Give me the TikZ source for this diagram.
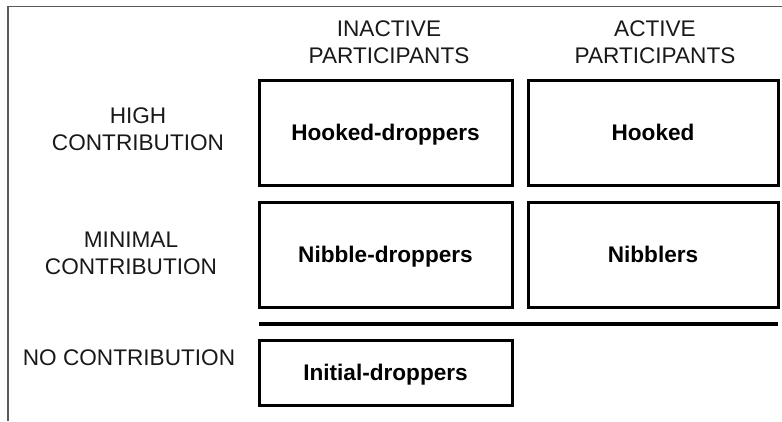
\documentclass[tikz,border=0pt]{standalone}
\usepackage{fontspec}
\setmainfont{Liberation Sans}
\begin{document}
\begin{tikzpicture}[x=1pt,y=-1pt,
  cellbox/.style={draw=black,line width=3pt,inner sep=0pt,font=\fontsize{22.6}{27}\selectfont\bfseries,text height=16.2pt,text depth=0pt},
  hdr/.style={font=\fontsize{22.6}{27}\selectfont,align=center,anchor=base,inner sep=0pt,text=black!90},
  frameline/.style={draw=black!65,line width=1.5pt}]
\useasboundingbox (0,0) rectangle (782,421);
% frame
\coordinate (ftl) at (8,6.5);
\coordinate (ftr) at (782,6.5);
\coordinate (fbl) at (8,421);
\draw[frameline] (ftr) -- (ftl) -- (fbl);
% headers
\node[hdr] (hinact) at (389,63) {INACTIVE\\PARTICIPANTS};
\node[hdr] (hact) at (655,63) {ACTIVE\\PARTICIPANTS};
\node[hdr] (rhigh) at (138,150) {HIGH\\CONTRIBUTION};
\node[hdr] (rmin) at (131,274) {MINIMAL\\CONTRIBUTION};
\node[hdr] (rno) at (129,365) {NO CONTRIBUTION};
% boxes
\node[cellbox,minimum width=253pt,minimum height=105pt] (hd) at (385.5,132.5) {Hooked-droppers};
\node[cellbox,minimum width=250pt,minimum height=105pt] (hk) at (653,132.5) {Hooked};
\node[cellbox,minimum width=253pt,minimum height=105pt] (nd) at (385.5,254.5) {Nibble-droppers};
\node[cellbox,minimum width=250pt,minimum height=105pt] (nb) at (653,254.5) {Nibblers};
\node[cellbox,minimum width=253pt,minimum height=65pt] (id) at (385.5,372.5) {Initial-droppers};
% separator
\coordinate (sl) at (259,324);
\coordinate (sr) at (778,324);
\draw[line width=3.5pt] (sl) -- (sr);
\end{tikzpicture}
\end{document}
